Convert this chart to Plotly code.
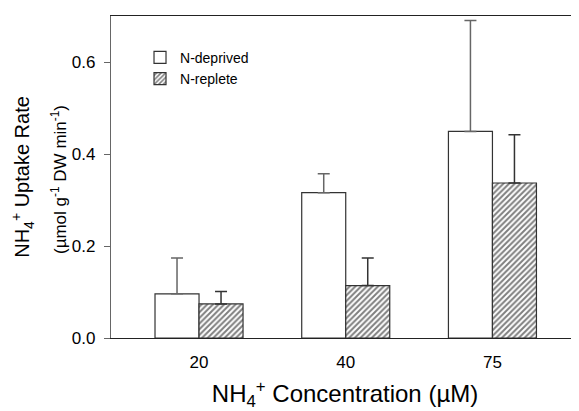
import plotly.graph_objects as go

categories = ["20", "40", "75"]
deprived = [0.096, 0.316, 0.449]
deprived_err = [0.078, 0.041, 0.241]
replete = [0.074, 0.114, 0.337]
replete_err = [0.027, 0.060, 0.105]
y_ticks = [0.0, 0.2, 0.4, 0.6]

fig = go.Figure()
fig.add_trace(go.Bar(
    x=categories, y=deprived, name="N-deprived",
    marker=dict(color="white", line=dict(color="#333333", width=1.2)),
    error_y=dict(type="data", array=deprived_err, symmetric=False, arrayminus=[0, 0, 0],
                 color="#666666", thickness=1.5, width=6),
))
fig.add_trace(go.Bar(
    x=categories, y=replete, name="N-replete",
    marker=dict(color="white", line=dict(color="#333333", width=1.2),
                pattern=dict(shape="/", fgcolor="#000000", bgcolor="white", size=4, solidity=0.5)),
    error_y=dict(type="data", array=replete_err, symmetric=False, arrayminus=[0, 0, 0],
                 color="#333333", thickness=1.5, width=6),
))

fig.add_annotation(
    text="(µmol g<sup>-1</sup> DW min<sup>-1</sup>)", textangle=-90,
    xref="paper", yref="paper", x=0, y=0.5, xanchor="center", yanchor="middle",
    xshift=-52, yshift=-3, showarrow=False, font=dict(size=17),
)

fig.update_layout(
    width=571, height=403,
    margin=dict(l=103, r=0, t=8, b=73),
    paper_bgcolor="white", plot_bgcolor="white",
    barmode="group", bargap=0.4, bargroupgap=0,
    font=dict(family="Liberation Sans, Arial, sans-serif", color="black", size=14),
    showlegend=True,
    legend=dict(x=0.062, y=0.92, xanchor="left", yanchor="top", bgcolor="rgba(0,0,0,0)",
                font=dict(size=14), tracegroupgap=0, itemwidth=30),
    xaxis=dict(
        range=[-0.6, 2.59], showline=True, linecolor="#222222", linewidth=1.2, mirror=True,
        ticks="", ticklabelstandoff=8, tickfont=dict(size=17), showgrid=False,
        title=dict(text="NH<sub>4</sub><sup>+</sup> Concentration (µM)", font=dict(size=24), standoff=19),
    ),
    yaxis=dict(
        range=[0, 0.7], tickvals=y_ticks, tickformat=".1f", showline=True, linecolor="#666666",
        linewidth=1.2, ticks="outside", ticklen=6, tickcolor="#666666", tickfont=dict(size=17),
        ticklabelstandoff=5, showgrid=False, zeroline=False,
        title=dict(text="NH<sub>4</sub><sup>+</sup> Uptake Rate", font=dict(size=20), standoff=38),
    ),
)

fig.write_html("out.html")
